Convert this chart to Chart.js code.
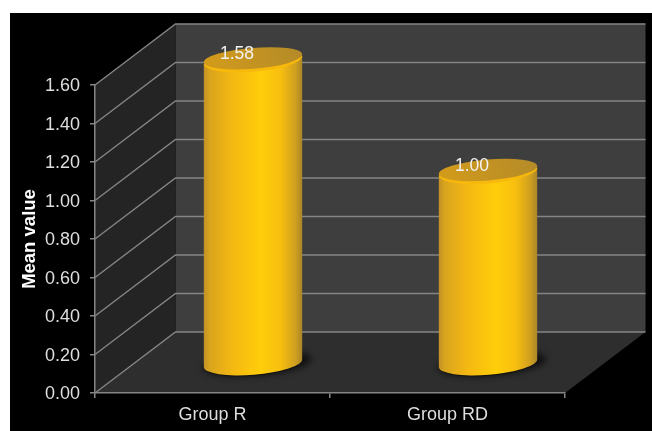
<!DOCTYPE html>
<html>
<head>
<meta charset="utf-8">
<title>Mean value by group</title>
<script src="https://cdn.jsdelivr.net/npm/chart.js@4"></script>
<style>
  html, body { margin: 0; padding: 0; background: #fff; }
  .panel { position: absolute; left: 10px; top: 13px; width: 642px; height: 418px; background: #000; }
  canvas { display: block; }
</style>
</head>
<body>
<div class="panel"><canvas id="chart" width="642" height="418"></canvas></div>
<script>
const categories = ['Group R', 'Group RD'];
const meanValues = [1.58, 1.00];
const yTicks = [0, 0.2, 0.4, 0.6, 0.8, 1.0, 1.2, 1.4, 1.6];

const FONT = '"Liberation Sans", Arial, sans-serif';
const LINE = '#858585';
// how far the back wall sits behind the front plane
const DEPTH_X = 80.5;
const DEPTH_Y = -61;
// cylinders stand a little forward of mid-depth
const BAR_DX = 40.5;
const BAR_DY = -29;

const room = {
  id: 'room',
  beforeDraw(chart) {
    const { ctx, chartArea: a } = chart;
    const y = chart.scales.y;
    ctx.save();
    ctx.fillStyle = '#3e3e3e';
    ctx.fillRect(a.left + DEPTH_X, a.top + DEPTH_Y, a.right - a.left, a.bottom - a.top);
    ctx.fillStyle = '#242424';
    ctx.beginPath();
    ctx.moveTo(a.left, a.top);
    ctx.lineTo(a.left + DEPTH_X, a.top + DEPTH_Y);
    ctx.lineTo(a.left + DEPTH_X, a.bottom + DEPTH_Y);
    ctx.lineTo(a.left, a.bottom);
    ctx.closePath();
    ctx.fill();
    ctx.fillStyle = '#2e2e2e';
    ctx.beginPath();
    ctx.moveTo(a.left, a.bottom);
    ctx.lineTo(a.right, a.bottom);
    ctx.lineTo(a.right + DEPTH_X, a.bottom + DEPTH_Y);
    ctx.lineTo(a.left + DEPTH_X, a.bottom + DEPTH_Y);
    ctx.closePath();
    ctx.fill();

    // gridlines run along the side wall, then across the back wall
    ctx.strokeStyle = LINE;
    ctx.lineWidth = 1.4;
    yTicks.forEach(t => {
      const py = y.getPixelForValue(t);
      ctx.beginPath();
      ctx.moveTo(a.left, py);
      ctx.lineTo(a.left + DEPTH_X, py + DEPTH_Y);
      ctx.lineTo(a.right + DEPTH_X, py + DEPTH_Y);
      ctx.stroke();
    });
    ctx.restore();
  }
};

const cylinders = {
  id: 'cylinders',
  afterDatasetsDraw(chart) {
    const { ctx } = chart;
    const tilt = -4.7 * Math.PI / 180;
    chart.getDatasetMeta(0).data.forEach((bar, i) => {
      const cx = bar.x + BAR_DX;
      const rx = bar.width / 2;
      const ry = 11.5;
      const baseY = bar.base + BAR_DY;
      const topY = bar.y + BAR_DY;

      ctx.save();
      // soft contact shadow, then a thin dark edge under the base
      ctx.filter = 'blur(3px)';
      ctx.fillStyle = 'rgba(10,10,10,0.8)';
      ctx.beginPath();
      ctx.ellipse(cx + 4, baseY, rx + 5, ry + 1, tilt, 0, Math.PI * 2);
      ctx.fill();
      ctx.filter = 'none';
      ctx.fillStyle = '#151515';
      ctx.beginPath();
      ctx.ellipse(cx + 0.5, baseY + 1, rx, ry, tilt, 0, Math.PI * 2);
      ctx.fill();

      const side = ctx.createLinearGradient(cx - rx, 0, cx + rx, 0);
      side.addColorStop(0, '#c09026');
      side.addColorStop(0.06, '#d9a41e');
      side.addColorStop(0.3, '#f5b912');
      side.addColorStop(0.58, '#ffcd0a');
      side.addColorStop(0.78, '#f8bf0f');
      side.addColorStop(0.93, '#cf9f20');
      side.addColorStop(1, '#aa8528');
      ctx.fillStyle = side;
      ctx.beginPath();
      ctx.ellipse(cx, baseY, rx, ry, tilt, 0, Math.PI);
      ctx.lineTo(cx - rx * Math.cos(tilt), topY - rx * Math.sin(tilt));
      ctx.lineTo(cx + rx * Math.cos(tilt), topY + rx * Math.sin(tilt));
      ctx.closePath();
      ctx.fill();

      // bright rim along the near edge only, the cap sits above it
      ctx.fillStyle = '#f7b90c';
      ctx.beginPath();
      ctx.ellipse(cx, topY, rx, ry + 0.5, tilt, 0, Math.PI);
      ctx.closePath();
      ctx.fill();
      const cap = ctx.createLinearGradient(cx - rx, topY + 10, cx + rx, topY - 10);
      cap.addColorStop(0, '#d49c1a');
      cap.addColorStop(0.5, '#c39322');
      cap.addColorStop(1, '#b58b28');
      ctx.fillStyle = cap;
      ctx.beginPath();
      ctx.ellipse(cx, topY - 1.5, rx, ry - 1, tilt, 0, Math.PI * 2);
      ctx.fill();

      ctx.fillStyle = '#f2f2f2';
      ctx.font = '17.5px ' + FONT;
      ctx.textAlign = 'center';
      ctx.textBaseline = 'middle';
      ctx.fillText(meanValues[i].toFixed(2), cx - 16, topY - 5.5);
      ctx.restore();
    });
  }
};

new Chart(document.getElementById('chart'), {
  type: 'bar',
  data: {
    labels: categories,
    datasets: [{
      label: 'Mean value',
      data: meanValues,
      backgroundColor: 'rgba(0,0,0,0)',
      borderWidth: 0,
      categoryPercentage: 1,
      barPercentage: 0.42
    }]
  },
  options: {
    responsive: false,
    animation: false,
    layout: { padding: { top: 72, right: 87 } },
    plugins: { legend: { display: false }, tooltip: { enabled: false } },
    scales: {
      x: {
        afterFit(scale) { scale.height = 38; },
        border: { color: LINE, width: 1.5 },
        grid: { drawOnChartArea: false, color: LINE, lineWidth: 1.5, tickLength: 5 },
        ticks: { color: '#dedede', font: { family: FONT, size: 18 }, padding: 6 }
      },
      y: {
        min: 0,
        max: 1.6,
        afterFit(scale) { scale.width = 85; },
        afterBuildTicks(scale) { scale.ticks = yTicks.map(value => ({ value })); },
        border: { color: LINE, width: 1.5 },
        grid: { drawOnChartArea: false, color: LINE, lineWidth: 1.5, tickLength: 5 },
        ticks: {
          color: '#dedede',
          font: { family: FONT, size: 18 },
          padding: 10,
          labelOffset: 1.5,
          callback: v => v.toFixed(2)
        },
        title: {
          display: true,
          text: 'Mean value',
          color: '#ffffff',
          font: { family: FONT, size: 18.5, weight: 'bold' },
          padding: { top: 9, bottom: 0 }
        }
      }
    }
  },
  plugins: [room, cylinders]
});
</script>
</body>
</html>
